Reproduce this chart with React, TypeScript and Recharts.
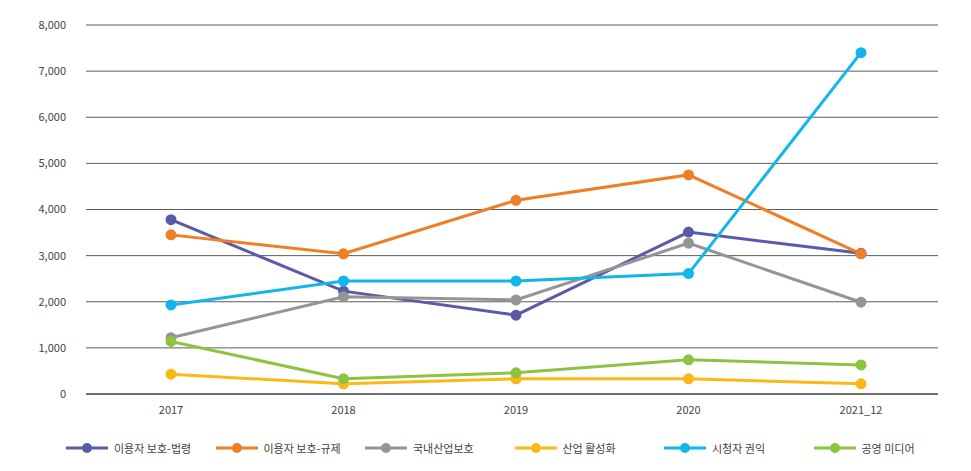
import React from 'react';
import { LineChart, Line, XAxis, YAxis, CartesianGrid } from 'recharts';

const categories = ['2017', '2018', '2019', '2020', '2021_12'];
const lawValues = [3780, 2230, 1710, 3510, 3050];
const regValues = [3450, 3040, 4200, 4750, 3040];
const industryValues = [1220, 2110, 2040, 3270, 1990];
const activationValues = [430, 220, 330, 330, 220];
const viewerValues = [1930, 2450, 2450, 2610, 7400];
const publicValues = [1140, 330, 460, 740, 630];
const yTicks = [0, 1000, 2000, 3000, 4000, 5000, 6000, 7000, 8000];

const series = [
  { key: 'law', name: '이용자 보호-법령', color: '#5a5ba8', values: lawValues },
  { key: 'reg', name: '이용자 보호-규제', color: '#ef7f24', values: regValues },
  { key: 'ind', name: '국내산업보호', color: '#959595', values: industryValues },
  { key: 'act', name: '산업 활성화', color: '#fbb817', values: activationValues },
  { key: 'view', name: '시청자 권익', color: '#13b6ea', values: viewerValues },
  { key: 'pub', name: '공영 미디어', color: '#8dc43f', values: publicValues },
];

const data = categories.map((c, i) => {
  const row: any = { cat: c };
  series.forEach(s => { row[s.key] = s.values[i]; });
  return row;
});

const font = "'Noto Sans CJK KR', 'Noto Sans', sans-serif";

export default function App() {
  return (
    <div style={{ width: 955, fontFamily: font }}>
      <LineChart width={955} height={416} data={data} margin={{ top: 17, right: 25, left: 0, bottom: 0 }}>
        <CartesianGrid vertical={false} stroke="#333" strokeWidth={0.8} />
        <XAxis dataKey="cat" height={30} tickLine={false} axisLine={{ stroke: '#333' }}
          padding={{ left: 85, right: 77 }}
          tick={{ fontSize: 11, fill: '#444', fontFamily: font }} tickMargin={6} />
        <YAxis width={78} domain={[0, 8000]} ticks={yTicks} axisLine={false} tickLine={false}
          tickFormatter={(v: number) => v.toLocaleString('en-US')}
          tick={{ fontSize: 11, fill: '#444', fontFamily: font }} tickMargin={14} />
        {series.map(s => (
          <Line key={s.key} dataKey={s.key} name={s.name} stroke={s.color} strokeWidth={3}
            dot={{ r: 4, fill: s.color, stroke: s.color }} isAnimationActive={false} />
        ))}
      </LineChart>
      <div style={{ display: 'flex', marginTop: 16, marginLeft: 58 }}>
        {series.map(s => (
          <div key={s.key} style={{ display: 'flex', alignItems: 'center', width: 155.5, fontSize: 11, color: '#444' }}>
            <svg width={42} height={12} style={{ marginRight: 6 }}>
              <line x1={0} y1={6} x2={42} y2={6} stroke={s.color} strokeWidth={3} />
              <circle cx={21} cy={6} r={5} fill={s.color} />
            </svg>
            {s.name}
          </div>
        ))}
      </div>
    </div>
  );
}
